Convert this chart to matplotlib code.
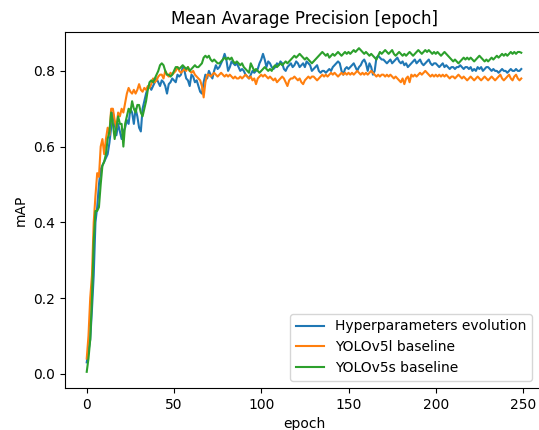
import numpy as np
import matplotlib
matplotlib.use("Agg")
import matplotlib.pyplot as plt

hyp_evolution = [
    0.03, 0.06, 0.09, 0.17, 0.26, 0.40, 0.44, 0.50, 0.54, 0.55,
    0.56, 0.57, 0.58, 0.61, 0.65, 0.69, 0.66, 0.63, 0.66, 0.64,
    0.62, 0.64, 0.65, 0.67, 0.66, 0.70, 0.69, 0.66, 0.70, 0.68,
    0.65, 0.64, 0.70, 0.72, 0.74, 0.755, 0.76, 0.75, 0.76, 0.77,
    0.78, 0.77, 0.76, 0.775, 0.77, 0.76, 0.74, 0.765, 0.77, 0.78,
    0.775, 0.77, 0.79, 0.785, 0.79, 0.81, 0.80, 0.78, 0.775, 0.76,
    0.79, 0.785, 0.77, 0.775, 0.76, 0.745, 0.74, 0.77, 0.79, 0.78,
    0.80, 0.79, 0.78, 0.80, 0.815, 0.805, 0.81, 0.82, 0.83, 0.845,
    0.83, 0.80, 0.81, 0.825, 0.82, 0.815, 0.82, 0.81, 0.80, 0.805,
    0.80, 0.79, 0.785, 0.78, 0.79, 0.80, 0.795, 0.80, 0.805, 0.82,
    0.83, 0.845, 0.83, 0.81, 0.825, 0.82, 0.81, 0.805, 0.81, 0.82,
    0.815, 0.825, 0.82, 0.805, 0.80, 0.81, 0.815, 0.82, 0.81, 0.815,
    0.825, 0.82, 0.81, 0.815, 0.82, 0.81, 0.825, 0.82, 0.815, 0.80,
    0.805, 0.81, 0.815, 0.80, 0.795, 0.80, 0.80, 0.795, 0.80, 0.805,
    0.80, 0.81, 0.815, 0.82, 0.825, 0.82, 0.80, 0.79, 0.805, 0.81,
    0.805, 0.81, 0.815, 0.82, 0.81, 0.80, 0.81, 0.815, 0.825, 0.83,
    0.82, 0.80, 0.82, 0.81, 0.79, 0.80, 0.835, 0.84, 0.835, 0.83,
    0.83, 0.825, 0.82, 0.825, 0.83, 0.82, 0.825, 0.83, 0.835, 0.825,
    0.82, 0.825, 0.815, 0.82, 0.81, 0.815, 0.82, 0.825, 0.83, 0.82,
    0.825, 0.83, 0.82, 0.815, 0.82, 0.825, 0.83, 0.82, 0.815, 0.82,
    0.82, 0.815, 0.81, 0.815, 0.82, 0.81, 0.815, 0.81, 0.805, 0.81,
    0.81, 0.805, 0.81, 0.81, 0.815, 0.81, 0.805, 0.81, 0.81, 0.805,
    0.81, 0.80, 0.805, 0.80, 0.81, 0.805, 0.81, 0.80, 0.805, 0.81,
    0.81, 0.805, 0.80, 0.805, 0.80, 0.80, 0.795, 0.80, 0.805, 0.80,
    0.80, 0.795, 0.80, 0.805, 0.80, 0.80, 0.805, 0.80, 0.80, 0.805,
]

yolov5l_baseline = [
    0.04, 0.10, 0.20, 0.26, 0.40, 0.47, 0.53, 0.52, 0.60, 0.62,
    0.58, 0.62, 0.65, 0.63, 0.70, 0.70, 0.67, 0.65, 0.69, 0.68,
    0.70, 0.69, 0.715, 0.74, 0.755, 0.745, 0.74, 0.75, 0.74, 0.75,
    0.765, 0.75, 0.745, 0.755, 0.75, 0.76, 0.755, 0.765, 0.78, 0.77,
    0.775, 0.785, 0.79, 0.79, 0.78, 0.80, 0.79, 0.785, 0.795, 0.79,
    0.795, 0.80, 0.81, 0.80, 0.795, 0.80, 0.805, 0.80, 0.81, 0.80,
    0.795, 0.80, 0.79, 0.785, 0.78, 0.775, 0.76, 0.73, 0.77, 0.79,
    0.79, 0.785, 0.79, 0.795, 0.79, 0.785, 0.79, 0.795, 0.79, 0.785,
    0.79, 0.785, 0.79, 0.785, 0.78, 0.785, 0.78, 0.78, 0.785, 0.78,
    0.785, 0.79, 0.785, 0.78, 0.785, 0.775, 0.78, 0.765, 0.78, 0.785,
    0.79, 0.785, 0.79, 0.785, 0.78, 0.785, 0.78, 0.775, 0.78, 0.77,
    0.775, 0.78, 0.785, 0.78, 0.77, 0.76, 0.775, 0.78, 0.78, 0.785,
    0.78, 0.775, 0.78, 0.77, 0.765, 0.775, 0.78, 0.785, 0.78, 0.785,
    0.785, 0.78, 0.775, 0.78, 0.785, 0.79, 0.785, 0.79, 0.785, 0.79,
    0.795, 0.79, 0.795, 0.79, 0.785, 0.79, 0.795, 0.79, 0.795, 0.79,
    0.795, 0.79, 0.795, 0.79, 0.795, 0.80, 0.795, 0.79, 0.795, 0.79,
    0.795, 0.79, 0.795, 0.80, 0.795, 0.79, 0.785, 0.79, 0.785, 0.79,
    0.79, 0.785, 0.79, 0.785, 0.79, 0.785, 0.78, 0.785, 0.78, 0.775,
    0.77, 0.78, 0.765, 0.78, 0.785, 0.77, 0.79, 0.785, 0.79, 0.785,
    0.79, 0.795, 0.79, 0.795, 0.80, 0.795, 0.79, 0.785, 0.79, 0.785,
    0.79, 0.785, 0.79, 0.785, 0.79, 0.785, 0.79, 0.785, 0.78, 0.785,
    0.785, 0.78, 0.785, 0.79, 0.785, 0.78, 0.785, 0.78, 0.775, 0.78,
    0.785, 0.78, 0.775, 0.78, 0.785, 0.78, 0.775, 0.78, 0.785, 0.78,
    0.775, 0.78, 0.785, 0.78, 0.775, 0.78, 0.785, 0.79, 0.78, 0.775,
    0.78, 0.785, 0.79, 0.78, 0.775, 0.785, 0.79, 0.78, 0.775, 0.78,
]

yolov5s_baseline = [
    0.005, 0.04, 0.09, 0.20, 0.35, 0.43, 0.43, 0.44, 0.50, 0.55,
    0.56, 0.58, 0.62, 0.64, 0.69, 0.66, 0.62, 0.65, 0.68, 0.66,
    0.66, 0.60, 0.66, 0.68, 0.70, 0.69, 0.72, 0.70, 0.69, 0.71,
    0.71, 0.69, 0.68, 0.70, 0.72, 0.75, 0.77, 0.775, 0.77, 0.78,
    0.79, 0.80, 0.815, 0.82, 0.815, 0.80, 0.79, 0.79, 0.785, 0.79,
    0.80, 0.81, 0.81, 0.805, 0.81, 0.815, 0.81, 0.805, 0.81, 0.80,
    0.805, 0.81, 0.815, 0.81, 0.81, 0.815, 0.82, 0.835, 0.84, 0.835,
    0.84, 0.83, 0.825, 0.83, 0.825, 0.82, 0.82, 0.825, 0.83, 0.835,
    0.83, 0.835, 0.83, 0.835, 0.825, 0.82, 0.825, 0.82, 0.815, 0.82,
    0.81, 0.805, 0.80, 0.795, 0.82, 0.81, 0.80, 0.805, 0.80, 0.795,
    0.80, 0.805, 0.81, 0.805, 0.80, 0.805, 0.80, 0.81, 0.815, 0.81,
    0.815, 0.82, 0.815, 0.82, 0.825, 0.82, 0.825, 0.83, 0.835, 0.84,
    0.835, 0.84, 0.845, 0.84, 0.835, 0.83, 0.835, 0.83, 0.825, 0.82,
    0.825, 0.83, 0.835, 0.84, 0.845, 0.85, 0.845, 0.84, 0.845, 0.835,
    0.84, 0.845, 0.84, 0.845, 0.85, 0.845, 0.84, 0.845, 0.85, 0.845,
    0.85, 0.845, 0.85, 0.855, 0.85, 0.855, 0.86, 0.855, 0.85, 0.845,
    0.85, 0.845, 0.84, 0.845, 0.84, 0.835, 0.83, 0.84, 0.85, 0.845,
    0.85, 0.855, 0.85, 0.845, 0.85, 0.855, 0.845, 0.84, 0.845, 0.85,
    0.845, 0.84, 0.845, 0.84, 0.845, 0.85, 0.845, 0.84, 0.845, 0.85,
    0.855, 0.85, 0.845, 0.85, 0.855, 0.85, 0.855, 0.85, 0.845, 0.85,
    0.845, 0.85, 0.845, 0.84, 0.845, 0.85, 0.845, 0.84, 0.835, 0.83,
    0.825, 0.83, 0.825, 0.82, 0.825, 0.83, 0.835, 0.83, 0.835, 0.83,
    0.835, 0.83, 0.825, 0.83, 0.835, 0.84, 0.835, 0.83, 0.825, 0.83,
    0.825, 0.83, 0.835, 0.83, 0.835, 0.84, 0.835, 0.84, 0.845, 0.84,
    0.845, 0.84, 0.845, 0.85, 0.845, 0.85, 0.845, 0.85, 0.85, 0.848,
]

labels = ["Hyperparameters evolution", "YOLOv5l baseline", "YOLOv5s baseline"]
epochs = np.arange(len(hyp_evolution))

fig = plt.figure(figsize=(5.39, 4.30), dpi=100)
ax = fig.add_axes([65 / 539, 42 / 430, (543 - 65) / 539, (388 - 32) / 430])
ax.plot(epochs, hyp_evolution, label=labels[0])
ax.plot(epochs, yolov5l_baseline, label=labels[1])
ax.plot(epochs, yolov5s_baseline, label=labels[2])
ax.set_xlim(-12.45, 261.45)
ax.spines["right"].set_visible(False)
ax.set_title("Mean Avarage Precision [epoch]")
ax.set_xlabel("epoch")
ax.set_ylabel("mAP")
ax.legend(loc="lower right", bbox_to_anchor=(536 / 539, 45 / 430),
          bbox_transform=fig.transFigure, borderaxespad=0.3)
fig.savefig("out.png", dpi=100)
